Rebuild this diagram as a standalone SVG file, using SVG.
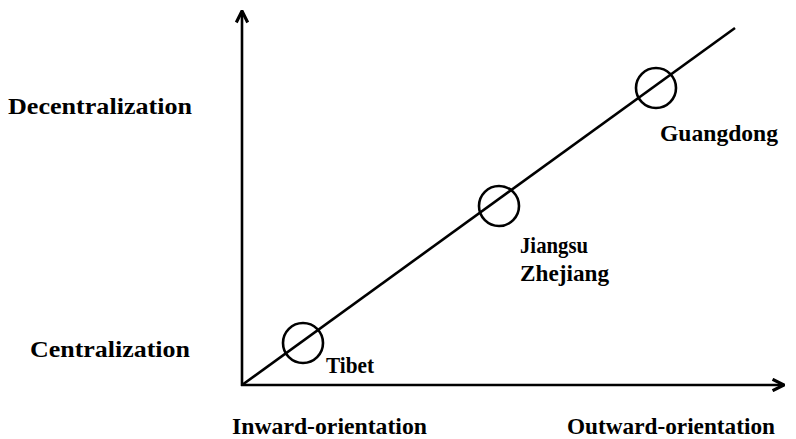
<svg xmlns="http://www.w3.org/2000/svg" width="796" height="439" viewBox="0 0 796 439">
<defs>
<style>
.t{font-family:"Liberation Serif","Times New Roman",serif;font-size:24px;font-weight:bold;fill:#000}
.ln{stroke:#000;stroke-width:2.6;fill:none}
</style>
<marker id="ah" viewBox="0 0 10 10" refX="9" refY="5" markerWidth="5.5" markerHeight="5.5" orient="auto" markerUnits="strokeWidth">
<path d="M1,1 L9,5 L1,9" fill="none" stroke="#000" stroke-width="2.2"/>
</marker>
</defs>
<rect width="796" height="439" fill="#fff"/>
<g id="connectors">
<line class="ln" x1="242" y1="386" x2="242" y2="11" marker-end="url(#ah)"/>
<line class="ln" x1="241" y1="385" x2="784" y2="385" marker-end="url(#ah)"/>
<line class="ln" x1="242" y1="385" x2="735" y2="28"/>
</g>
<g id="tibet"><circle class="ln" cx="303" cy="343" r="20"/><text class="t" x="326" y="373" textLength="48" lengthAdjust="spacingAndGlyphs">Tibet</text></g>
<g id="jiangsu"><circle class="ln" cx="499" cy="206" r="20"/><text class="t" x="520" y="253" textLength="68" lengthAdjust="spacingAndGlyphs">Jiangsu</text><text class="t" x="520" y="281" textLength="89" lengthAdjust="spacingAndGlyphs">Zhejiang</text></g>
<g id="guangdong"><circle class="ln" cx="656" cy="88" r="20"/><text class="t" x="660" y="141" textLength="118" lengthAdjust="spacingAndGlyphs">Guangdong</text></g>
<g id="labels">
<text class="t" x="8" y="114" textLength="184" lengthAdjust="spacingAndGlyphs">Decentralization</text>
<text class="t" x="30" y="357" textLength="160" lengthAdjust="spacingAndGlyphs">Centralization</text>
<text class="t" x="232" y="434" textLength="195" lengthAdjust="spacingAndGlyphs">Inward-orientation</text>
<text class="t" x="567" y="434" textLength="208" lengthAdjust="spacingAndGlyphs">Outward-orientation</text>
</g>
</svg>
